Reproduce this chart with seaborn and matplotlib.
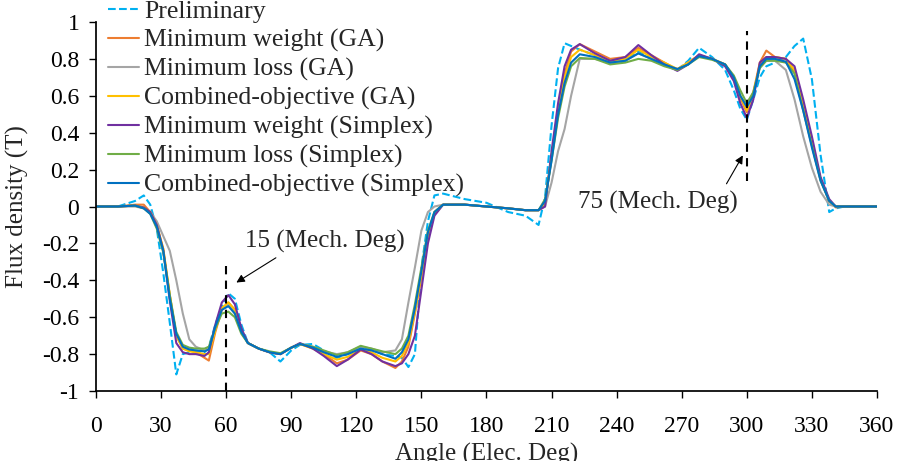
import matplotlib
matplotlib.use("Agg")
import matplotlib.pyplot as plt
import seaborn as sns

sns.set_theme(style="ticks")
plt.rcParams['font.family'] = ['Liberation Serif', 'DejaVu Serif']

angle = [0, 10, 18, 22, 25, 28, 31, 34, 37, 40, 43, 46, 50, 52, 55, 58, 61, 64, 67, 70,
         75, 80, 85, 90, 94, 100, 105, 111, 116, 122, 127, 132, 138, 141, 144, 147, 150, 153, 156, 160,
         170, 180, 190, 198, 204, 207, 210, 213, 216, 219, 223, 230, 237, 244, 250, 256, 262, 268, 273, 278,
         284, 290, 294, 297, 300, 303, 306, 309, 313, 318, 322, 326, 330, 334, 338, 341, 345, 360]

preliminary = [0, 0, 0.03, 0.06, 0.01, -0.12, -0.36, -0.63, -0.91, -0.80, -0.79, -0.79, -0.79, -0.76, -0.64, -0.54, -0.47, -0.50, -0.64, -0.74,
               -0.77, -0.79, -0.84, -0.78, -0.75, -0.745, -0.78, -0.82, -0.80, -0.77, -0.775, -0.80, -0.81, -0.82, -0.87, -0.80, -0.33, -0.08, 0.06, 0.07,
               0.04, 0.02, -0.03, -0.05, -0.10, 0.05, 0.44, 0.75, 0.885, 0.87, 0.85, 0.82, 0.79, 0.80, 0.84, 0.80, 0.77, 0.74, 0.79, 0.86,
               0.81, 0.74, 0.63, 0.53, 0.47, 0.58, 0.70, 0.76, 0.78, 0.81, 0.87, 0.91, 0.69, 0.28, -0.03, -0.01, 0, 0]
min_weight_ga = [0, 0, 0.01, 0.01, -0.03, -0.10, -0.23, -0.48, -0.70, -0.77, -0.78, -0.79, -0.82, -0.835, -0.68, -0.56, -0.52, -0.56, -0.67, -0.74,
                 -0.77, -0.79, -0.80, -0.765, -0.745, -0.77, -0.80, -0.85, -0.83, -0.78, -0.80, -0.84, -0.875, -0.84, -0.76, -0.58, -0.38, -0.16, -0.04, 0.01,
                 0.01, 0, -0.01, -0.02, -0.02, 0.02, 0.27, 0.53, 0.72, 0.84, 0.88, 0.84, 0.80, 0.81, 0.86, 0.82, 0.78, 0.74, 0.78, 0.82,
                 0.80, 0.77, 0.69, 0.59, 0.51, 0.62, 0.78, 0.845, 0.81, 0.80, 0.73, 0.54, 0.34, 0.15, 0.03, -0.005, 0, 0]
min_loss_ga = [0, 0, 0, -0.01, -0.03, -0.08, -0.16, -0.24, -0.40, -0.58, -0.72, -0.76, -0.78, -0.77, -0.65, -0.55, -0.53, -0.58, -0.68, -0.74,
               -0.77, -0.79, -0.80, -0.765, -0.745, -0.76, -0.785, -0.80, -0.79, -0.76, -0.77, -0.79, -0.78, -0.72, -0.52, -0.33, -0.13, -0.03, 0, 0.01,
               0.01, 0, -0.01, -0.02, -0.02, 0, 0.13, 0.30, 0.42, 0.60, 0.80, 0.80, 0.78, 0.79, 0.83, 0.80, 0.77, 0.745, 0.78, 0.815,
               0.80, 0.77, 0.70, 0.60, 0.54, 0.60, 0.76, 0.79, 0.79, 0.74, 0.58, 0.38, 0.21, 0.08, 0.01, 0, 0, 0]
combined_ga = [0, 0, 0.005, -0.005, -0.03, -0.10, -0.23, -0.48, -0.70, -0.77, -0.785, -0.79, -0.80, -0.80, -0.67, -0.55, -0.52, -0.56, -0.67, -0.74,
               -0.77, -0.79, -0.80, -0.765, -0.745, -0.77, -0.80, -0.83, -0.815, -0.775, -0.79, -0.82, -0.84, -0.81, -0.74, -0.57, -0.37, -0.15, -0.03, 0.01,
               0.01, 0, -0.01, -0.02, -0.02, 0.02, 0.27, 0.52, 0.70, 0.81, 0.85, 0.82, 0.79, 0.80, 0.85, 0.81, 0.78, 0.745, 0.78, 0.82,
               0.80, 0.77, 0.70, 0.60, 0.52, 0.61, 0.77, 0.81, 0.81, 0.80, 0.74, 0.55, 0.35, 0.15, 0.03, 0, 0, 0]
min_weight_simplex = [0, 0, 0.005, -0.005, -0.03, -0.10, -0.24, -0.51, -0.74, -0.79, -0.80, -0.80, -0.81, -0.79, -0.64, -0.52, -0.48, -0.53, -0.66, -0.74,
                      -0.77, -0.79, -0.80, -0.765, -0.74, -0.77, -0.81, -0.865, -0.83, -0.775, -0.80, -0.84, -0.865, -0.85, -0.80, -0.70, -0.45, -0.20, -0.05, 0.01,
                      0.01, 0, -0.01, -0.02, -0.02, 0, 0.30, 0.56, 0.76, 0.85, 0.88, 0.83, 0.79, 0.81, 0.875, 0.82, 0.77, 0.735, 0.77, 0.825,
                      0.80, 0.76, 0.68, 0.56, 0.48, 0.58, 0.78, 0.81, 0.81, 0.80, 0.76, 0.58, 0.38, 0.16, 0.04, 0, 0, 0]
min_loss_simplex = [0, 0, 0.005, -0.01, -0.04, -0.12, -0.25, -0.48, -0.68, -0.75, -0.765, -0.77, -0.77, -0.76, -0.66, -0.58, -0.57, -0.60, -0.69, -0.74,
                    -0.77, -0.785, -0.795, -0.765, -0.745, -0.76, -0.78, -0.805, -0.79, -0.755, -0.77, -0.785, -0.80, -0.77, -0.70, -0.53, -0.33, -0.13, -0.03, 0.01,
                    0.01, 0, -0.01, -0.02, -0.02, 0.04, 0.25, 0.48, 0.65, 0.76, 0.805, 0.80, 0.77, 0.78, 0.80, 0.79, 0.76, 0.74, 0.77, 0.81,
                    0.795, 0.77, 0.71, 0.63, 0.56, 0.62, 0.75, 0.79, 0.79, 0.78, 0.72, 0.52, 0.33, 0.14, 0.03, 0, 0, 0]
combined_simplex = [0, 0, 0.005, -0.01, -0.04, -0.11, -0.24, -0.50, -0.69, -0.76, -0.775, -0.78, -0.785, -0.775, -0.65, -0.56, -0.54, -0.58, -0.68, -0.74,
                    -0.77, -0.79, -0.80, -0.765, -0.745, -0.765, -0.79, -0.815, -0.80, -0.77, -0.78, -0.80, -0.825, -0.79, -0.72, -0.55, -0.35, -0.14, -0.03, 0.01,
                    0.01, 0, -0.01, -0.02, -0.02, 0.03, 0.25, 0.50, 0.67, 0.78, 0.825, 0.81, 0.78, 0.79, 0.83, 0.80, 0.77, 0.745, 0.77, 0.815,
                    0.80, 0.77, 0.70, 0.60, 0.54, 0.60, 0.76, 0.80, 0.80, 0.785, 0.69, 0.52, 0.32, 0.14, 0.03, 0, 0, 0]

series = [
    ("Preliminary", preliminary, "#00B0F0", "--"),
    ("Minimum weight (GA)", min_weight_ga, "#ED7D31", "-"),
    ("Minimum loss (GA)", min_loss_ga, "#A5A5A5", "-"),
    ("Combined-objective (GA)", combined_ga, "#FFC000", "-"),
    ("Minimum weight (Simplex)", min_weight_simplex, "#7030A0", "-"),
    ("Minimum loss (Simplex)", min_loss_simplex, "#70AD47", "-"),
    ("Combined-objective (Simplex)", combined_simplex, "#0070C0", "-"),
]

xticks = list(range(0, 361, 30))
yticks = [1, 0.8, 0.6, 0.4, 0.2, 0, -0.2, -0.4, -0.6, -0.8, -1]
ytick_labels = ["1", "0.8", "0.6", "0.4", "0.2", "0", "-0.2", "-0.4", "-0.6", "-0.8", "-1"]

# mechanical-degree markers: angle, line bottom/top, arrow head, arrow tail, text spot
markers = [
    (60, -1.0, -0.30, (63.6, -0.42), (84, -0.27), (68.5, -0.19), "15 (Mech. Deg)"),
    (300, 0.14, 0.95, (298.8, 0.29), (290, 0.11), (222, 0.02), "75 (Mech. Deg)"),
]

fig = plt.figure(figsize=(9, 4.61), dpi=100)
ax = fig.add_axes([0.1067, 0.1518, 0.8677, 0.8005])

for name, vals, col, ls in series:
    sns.lineplot(x=angle, y=vals, color=col, linestyle=ls, linewidth=1.5, label=name, ax=ax)

for xa, y0, y1, head, tail, tpos, txt in markers:
    ax.vlines(xa, y0, y1, colors="black", linestyles=(0, (4, 3)), linewidth=1.5)
    ax.annotate("", xy=head, xytext=tail,
                arrowprops=dict(arrowstyle="-|>", color="black", lw=0.8, mutation_scale=12))
    ax.text(tpos[0], tpos[1], txt, ha="left", va="center", fontsize=18)

ax.set_xlim(0, 360)
ax.set_ylim(-1, 1)
ax.set_xticks(xticks)
ax.set_yticks(yticks)
ax.set_yticklabels(ytick_labels)
ax.tick_params(axis="both", labelsize=17, direction="out", length=5, width=1, colors="black")
ax.tick_params(axis="x", pad=13)
ax.tick_params(axis="y", pad=7)
ax.set_xlabel("Angle (Elec. Deg)", fontsize=18)
ax.set_ylabel("Flux density (T)", fontsize=18)
ax.xaxis.set_label_coords(0.5, -0.14)
ax.yaxis.set_label_coords(-0.086, 0.5)
sns.despine(ax=ax)
ax.spines["left"].set_color("black")
ax.spines["bottom"].set_color("black")

ax.legend(loc="upper left", bbox_to_anchor=(0.12, 1.0), bbox_transform=fig.transFigure,
          frameon=False, fontsize=18.5, handlelength=1.2, handletextpad=0.2,
          labelspacing=0.22, borderpad=0, borderaxespad=0)

fig.savefig("out.png", dpi=100)
